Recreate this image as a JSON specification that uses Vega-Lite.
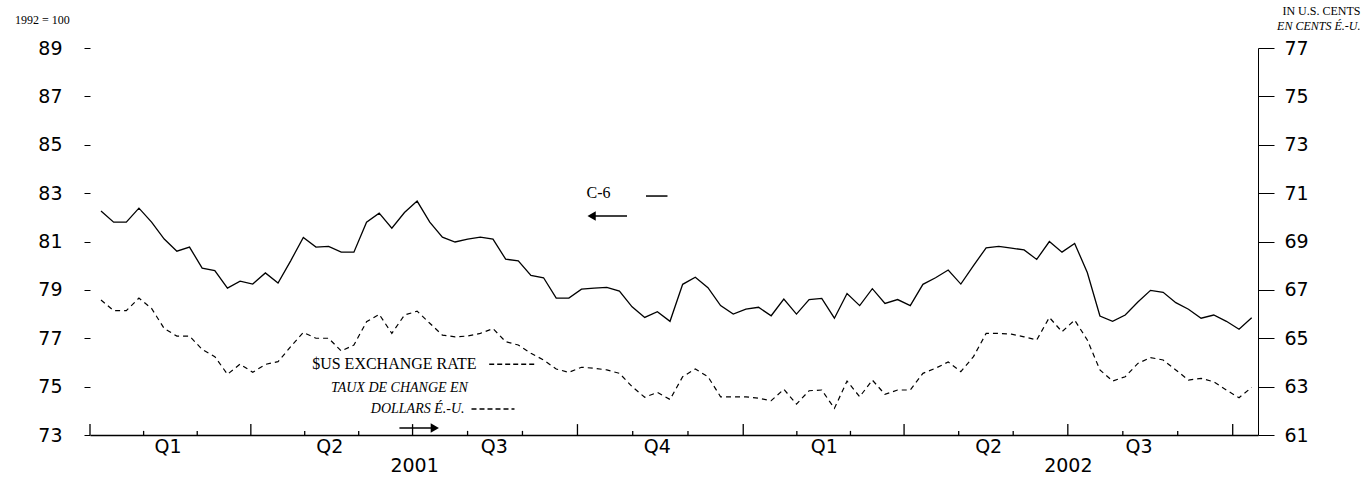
{
"$schema":"https://vega.github.io/schema/vega-lite/v6.json",
"width":1168,"height":387,"autosize":"none","padding":{"left":90,"top":48,"right":107,"bottom":43},
"background":"white",
"config":{"view":{"stroke":null},"axis":{"grid":false}},
"datasets":{
"series":[
{"i":0,"c6":82.26,"fx":66.58},{"i":1,"c6":81.8,"fx":66.14},{"i":2,"c6":81.8,"fx":66.14},{"i":3,"c6":82.38,"fx":66.66},{"i":4,"c6":81.8,"fx":66.23},{"i":5,"c6":81.1,"fx":65.4},{"i":6,"c6":80.6,"fx":65.09},{"i":7,"c6":80.77,"fx":65.09},{"i":8,"c6":79.9,"fx":64.54},{"i":9,"c6":79.8,"fx":64.24},
{"i":10,"c6":79.07,"fx":63.51},{"i":11,"c6":79.36,"fx":63.93},{"i":12,"c6":79.24,"fx":63.59},{"i":13,"c6":79.7,"fx":63.92},{"i":14,"c6":79.28,"fx":64.03},{"i":15,"c6":80.2,"fx":64.65},{"i":16,"c6":81.17,"fx":65.24},{"i":17,"c6":80.77,"fx":65.0},{"i":18,"c6":80.8,"fx":65.0},{"i":19,"c6":80.56,"fx":64.47},
{"i":20,"c6":80.56,"fx":64.72},{"i":21,"c6":81.8,"fx":65.68},{"i":22,"c6":82.17,"fx":65.99},{"i":23,"c6":81.55,"fx":65.2},{"i":24,"c6":82.2,"fx":65.96},{"i":25,"c6":82.67,"fx":66.12},{"i":26,"c6":81.8,"fx":65.62},{"i":27,"c6":81.18,"fx":65.13},{"i":28,"c6":80.98,"fx":65.06},{"i":29,"c6":81.1,"fx":65.09},
{"i":30,"c6":81.18,"fx":65.2},{"i":31,"c6":81.1,"fx":65.4},{"i":32,"c6":80.27,"fx":64.86},{"i":33,"c6":80.2,"fx":64.72},{"i":34,"c6":79.6,"fx":64.38},{"i":35,"c6":79.5,"fx":64.1},{"i":36,"c6":78.66,"fx":63.73},{"i":37,"c6":78.66,"fx":63.59},{"i":38,"c6":79.03,"fx":63.8},{"i":39,"c6":79.07,"fx":63.76},
{"i":40,"c6":79.1,"fx":63.69},{"i":41,"c6":78.95,"fx":63.55},{"i":42,"c6":78.3,"fx":63.0},{"i":43,"c6":77.86,"fx":62.56},{"i":44,"c6":78.1,"fx":62.76},{"i":45,"c6":77.7,"fx":62.47},{"i":46,"c6":79.23,"fx":63.41},{"i":47,"c6":79.52,"fx":63.73},{"i":48,"c6":79.09,"fx":63.41},{"i":49,"c6":78.35,"fx":62.58},
{"i":50,"c6":78.0,"fx":62.58},{"i":51,"c6":78.2,"fx":62.58},{"i":52,"c6":78.28,"fx":62.52},{"i":53,"c6":77.93,"fx":62.42},{"i":54,"c6":78.62,"fx":62.89},{"i":55,"c6":78.0,"fx":62.28},{"i":56,"c6":78.6,"fx":62.83},{"i":57,"c6":78.65,"fx":62.86},{"i":58,"c6":77.83,"fx":62.1},{"i":59,"c6":78.85,"fx":63.23},
{"i":60,"c6":78.35,"fx":62.58},{"i":61,"c6":79.05,"fx":63.27},{"i":62,"c6":78.44,"fx":62.68},{"i":63,"c6":78.6,"fx":62.86},{"i":64,"c6":78.35,"fx":62.86},{"i":65,"c6":79.23,"fx":63.55},{"i":66,"c6":79.5,"fx":63.76},{"i":67,"c6":79.82,"fx":64.02},{"i":68,"c6":79.24,"fx":63.62},{"i":69,"c6":80.0,"fx":64.24},
{"i":70,"c6":80.74,"fx":65.2},{"i":71,"c6":80.8,"fx":65.2},{"i":72,"c6":80.73,"fx":65.17},{"i":73,"c6":80.65,"fx":65.06},{"i":74,"c6":80.26,"fx":64.93},{"i":75,"c6":81.0,"fx":65.86},{"i":76,"c6":80.56,"fx":65.27},{"i":77,"c6":80.92,"fx":65.75},{"i":78,"c6":79.72,"fx":64.93},{"i":79,"c6":77.92,"fx":63.69},
{"i":80,"c6":77.7,"fx":63.23},{"i":81,"c6":77.96,"fx":63.41},{"i":82,"c6":78.5,"fx":63.96},{"i":83,"c6":78.98,"fx":64.2},{"i":84,"c6":78.9,"fx":64.1},{"i":85,"c6":78.47,"fx":63.69},{"i":86,"c6":78.2,"fx":63.27},{"i":87,"c6":77.83,"fx":63.34},{"i":88,"c6":77.96,"fx":63.2},{"i":89,"c6":77.7,"fx":62.86},
{"i":90,"c6":77.37,"fx":62.54},{"i":91,"c6":77.85,"fx":62.97}
],
"ticks":[
{"x":-0.87,"b":73,"top":73.45},{"x":3.37,"b":73,"top":73.17},{"x":7.61,"b":73,"top":73.17},{"x":11.85,"b":73,"top":73.45},{"x":16.11,"b":73,"top":73.17},{"x":20.38,"b":73,"top":73.17},{"x":24.64,"b":73,"top":73.45},{"x":28.99,"b":73,"top":73.17},{"x":33.33,"b":73,"top":73.17},{"x":37.68,"b":73,"top":73.45},{"x":42.05,"b":73,"top":73.17},{"x":46.42,"b":73,"top":73.17},{"x":50.79,"b":73,"top":73.45},{"x":55.03,"b":73,"top":73.17},{"x":59.27,"b":73,"top":73.17},{"x":63.51,"b":73,"top":73.45},{"x":67.83,"b":73,"top":73.17},{"x":72.14,"b":73,"top":73.17},{"x":76.46,"b":73,"top":73.45},{"x":80.81,"b":73,"top":73.17},{"x":85.15,"b":73,"top":73.17},{"x":89.5,"b":73,"top":73.45}
],
"periods":[
{"x":5.3,"y":72.5,"t":"Q1"},{"x":18.1,"y":72.5,"t":"Q2"},{"x":31.1,"y":72.5,"t":"Q3"},{"x":44.0,"y":72.5,"t":"Q4"},{"x":57.2,"y":72.5,"t":"Q1"},{"x":70.2,"y":72.5,"t":"Q2"},{"x":82.1,"y":72.5,"t":"Q3"},
{"x":24.8,"y":71.7,"t":"2001"},{"x":76.5,"y":71.7,"t":"2002"}
],
"notesL":[
{"x":38.4,"y":83.0,"t":"C-6"},
{"x":16.7,"y":75.93,"t":"$US EXCHANGE RATE"}
],
"notesH":[{"x":-6.8,"y":90.16,"t":"1992 = 100"}],
"notesC":[{"x":23.6,"y":74.94,"t":"TAUX DE CHANGE EN"}],
"notesR":[{"x":28.75,"y":74.07,"t":"DOLLARS É.-U."}],
"notesRH":[{"x":99.6,"y":89.9,"t":"EN CENTS É.-U."}],
"notesRN":[{"x":99.6,"y":90.53,"t":"IN U.S. CENTS"}],
"segs":[
{"x":43.1,"x2":44.8,"y":82.88},
{"x":38.9,"x2":41.6,"y":82.05},
{"x":23.6,"x2":26.2,"y":73.29}
],
"dsegs":[
{"x":30.7,"x2":34.3,"y":75.93},
{"x":29.3,"x2":32.7,"y":74.07}
],
"headsL":[{"x":38.8,"y":82.05}],
"headsR":[{"x":26.4,"y":73.29}]
},
"layer":[
{"data":{"name":"series"},"mark":{"type":"line","color":"black","strokeWidth":1.3},
"encoding":{"x":{"field":"i","type":"quantitative","scale":{"domain":[-0.87,91.5],"nice":false,"zero":false},"axis":{"domain":true,"domainColor":"black","domainWidth":1.5,"ticks":false,"labels":false,"title":null}},
"y":{"field":"c6","type":"quantitative","scale":{"domain":[73,89],"nice":false,"zero":false},"axis":{"orient":"left","values":[73,75,77,79,81,83,85,87,89],"domain":false,"tickColor":"black","tickSize":6,"labelFont":"DejaVu Sans","labelFontSize":19,"labelColor":"black","labelPadding":22,"title":null}}}},
{"data":{"name":"series"},"mark":{"type":"line","color":"black","strokeWidth":1.2,"strokeDash":[5,4]},
"encoding":{"x":{"field":"i","type":"quantitative"},
"y":{"field":"fx","type":"quantitative","scale":{"domain":[61,77],"nice":false,"zero":false},"axis":{"orient":"right","values":[61,63,65,67,69,71,73,75,77],"domain":true,"domainColor":"black","tickColor":"black","tickSize":16,"labelFont":"DejaVu Sans","labelFontSize":19,"labelColor":"black","labelPadding":10,"title":null}}}},
{"layer":[
{"data":{"name":"ticks"},"mark":{"type":"rule","color":"black","strokeWidth":1.3},
"encoding":{"x":{"field":"x","type":"quantitative"},"y":{"field":"b","type":"quantitative","scale":{"domain":[73,89],"nice":false,"zero":false},"axis":null},"y2":{"field":"top"}}},
{"data":{"name":"periods"},"mark":{"type":"text","font":"DejaVu Sans","fontSize":19,"color":"black","baseline":"middle"},
"encoding":{"x":{"field":"x","type":"quantitative"},"y":{"field":"y","type":"quantitative"},"text":{"field":"t"}}},
{"data":{"name":"notesL"},"mark":{"type":"text","font":"Liberation Serif","fontSize":16,"color":"black","baseline":"middle","align":"left"},
"encoding":{"x":{"field":"x","type":"quantitative"},"y":{"field":"y","type":"quantitative"},"text":{"field":"t"}}},
{"data":{"name":"notesH"},"mark":{"type":"text","font":"Liberation Serif","fontSize":12,"color":"black","baseline":"middle","align":"left"},
"encoding":{"x":{"field":"x","type":"quantitative"},"y":{"field":"y","type":"quantitative"},"text":{"field":"t"}}},
{"data":{"name":"notesC"},"mark":{"type":"text","font":"Liberation Serif","fontSize":14,"fontStyle":"italic","color":"black","baseline":"middle","align":"center"},
"encoding":{"x":{"field":"x","type":"quantitative"},"y":{"field":"y","type":"quantitative"},"text":{"field":"t"}}},
{"data":{"name":"notesR"},"mark":{"type":"text","font":"Liberation Serif","fontSize":14,"fontStyle":"italic","color":"black","baseline":"middle","align":"right"},
"encoding":{"x":{"field":"x","type":"quantitative"},"y":{"field":"y","type":"quantitative"},"text":{"field":"t"}}},
{"data":{"name":"notesRH"},"mark":{"type":"text","font":"Liberation Serif","fontSize":12,"fontStyle":"italic","color":"black","baseline":"middle","align":"right"},
"encoding":{"x":{"field":"x","type":"quantitative"},"y":{"field":"y","type":"quantitative"},"text":{"field":"t"}}},
{"data":{"name":"notesRN"},"mark":{"type":"text","font":"Liberation Serif","fontSize":12,"color":"black","baseline":"middle","align":"right"},
"encoding":{"x":{"field":"x","type":"quantitative"},"y":{"field":"y","type":"quantitative"},"text":{"field":"t"}}},
{"data":{"name":"segs"},"mark":{"type":"rule","color":"black","strokeWidth":1.5},
"encoding":{"x":{"field":"x","type":"quantitative"},"x2":{"field":"x2"},"y":{"field":"y","type":"quantitative"}}},
{"data":{"name":"dsegs"},"mark":{"type":"rule","color":"black","strokeWidth":1.5,"strokeDash":[5,3]},
"encoding":{"x":{"field":"x","type":"quantitative"},"x2":{"field":"x2"},"y":{"field":"y","type":"quantitative"}}},
{"data":{"name":"headsL"},"mark":{"type":"point","shape":"triangle-left","filled":true,"color":"black","size":90,"opacity":1},
"encoding":{"x":{"field":"x","type":"quantitative"},"y":{"field":"y","type":"quantitative"}}},
{"data":{"name":"headsR"},"mark":{"type":"point","shape":"triangle-right","filled":true,"color":"black","size":90,"opacity":1},
"encoding":{"x":{"field":"x","type":"quantitative"},"y":{"field":"y","type":"quantitative"}}}
]}
],
"resolve":{"scale":{"y":"independent"}}
}
